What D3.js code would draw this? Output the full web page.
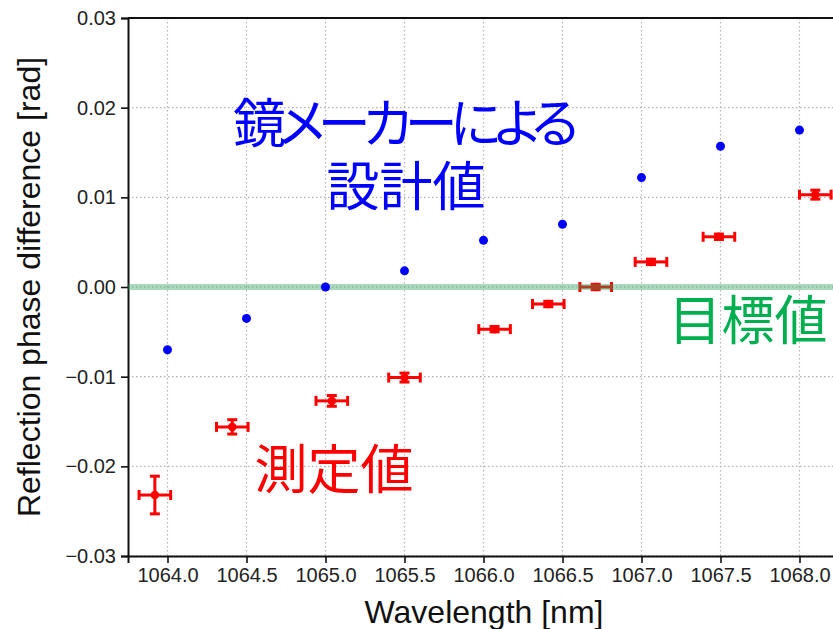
<!DOCTYPE html>
<html>
<head>
<meta charset="utf-8">
<script src="https://cdn.jsdelivr.net/npm/d3@7"></script>
<style>
  html, body { margin: 0; padding: 0; background: #fff; }
  svg { display: block; }
</style>
</head>
<body>
<svg id="chart" width="833" height="629"></svg>
<script>
// Design values supplied by the mirror maker
const designWavelength = [1064.0, 1064.5, 1065.0, 1065.5, 1066.0, 1066.5, 1067.0, 1067.5, 1068.0];
const designPhase = [-0.0070, -0.0035, 0.0000, 0.0018, 0.0052, 0.0070, 0.0122, 0.0157, 0.0175];

// Measured values with uncertainties
const measWavelength = [1063.92, 1064.41, 1065.04, 1065.50, 1066.07, 1066.41, 1066.71, 1067.06, 1067.49, 1068.10];
const measPhase = [-0.0232, -0.0156, -0.0127, -0.0101, -0.0047, -0.0019, 0.0000, 0.0028, 0.0056, 0.0103];
const measPhaseErr = [0.0021, 0.0008, 0.0006, 0.0005, 0.0003, 0.0003, 0.0003, 0.0003, 0.0003, 0.0005];
const measWavelengthErr = [0.1, 0.1, 0.1, 0.1, 0.1, 0.1, 0.1, 0.1, 0.1, 0.1];

// Target phase difference
const targetPhase = 0.0;

const xTicks = [1064.0, 1064.5, 1065.0, 1065.5, 1066.0, 1066.5, 1067.0, 1067.5, 1068.0];
const yTicks = [-0.03, -0.02, -0.01, 0.00, 0.01, 0.02, 0.03];

const svg = d3.select("#chart");
const x = d3.scaleLinear().domain([1063.75, 1068.25]).range([128, 839]);
const y = d3.scaleLinear().domain([-0.03, 0.03]).range([556, 18]);

const tickFont = "'Liberation Sans', Arial, sans-serif";

// Dotted grid
const grid = svg.append("g");
grid.selectAll("line.gx").data(xTicks).join("line")
  .attr("x1", d => x(d)).attr("x2", d => x(d))
  .attr("y1", y(0.03)).attr("y2", y(-0.03))
  .attr("stroke", "#b4b4b4").attr("stroke-width", 1.2)
  .attr("stroke-dasharray", "1.5,2.5");
grid.selectAll("line.gy").data(yTicks).join("line")
  .attr("x1", x.range()[0]).attr("x2", 833)
  .attr("y1", d => y(d)).attr("y2", d => y(d))
  .attr("stroke", "#b4b4b4").attr("stroke-width", 1.2)
  .attr("stroke-dasharray", "1.5,2.5");

// Axes
const xAxis = svg.append("g")
  .attr("transform", `translate(0,${y(-0.03)})`)
  .call(d3.axisBottom(x).tickValues(xTicks).tickFormat(d3.format(".1f")).tickSize(7).tickPadding(5));
const yAxis = svg.append("g")
  .attr("transform", `translate(${x.range()[0]},0)`)
  .call(d3.axisLeft(y).tickValues(yTicks).tickFormat(d3.format(".2f")).tickSize(7).tickPadding(5));
// top spine
svg.append("line")
  .attr("x1", x.range()[0]).attr("x2", 833)
  .attr("y1", y(0.03)).attr("y2", y(0.03))
  .attr("stroke", "#111").attr("stroke-width", 2);

[xAxis, yAxis].forEach(g => {
  g.select(".domain").attr("stroke", "#111").attr("stroke-width", 2);
  g.selectAll(".tick line").attr("stroke", "#111").attr("stroke-width", 1.6);
  g.selectAll(".tick text").attr("fill", "#222")
    .style("font-family", tickFont).style("font-size", "20px");
});
yAxis.selectAll(".tick text").text(d => d3.format(".2f")(d).replace("-", "\u2212"));

// Axis titles
svg.append("text")
  .attr("x", 484).attr("y", 623)
  .attr("text-anchor", "middle")
  .style("font-family", tickFont).style("font-size", "32px").attr("fill", "#111")
  .text("Wavelength [nm]");
svg.append("text")
  .attr("transform", "translate(40,287) rotate(-90)")
  .attr("text-anchor", "middle")
  .style("font-family", tickFont).style("font-size", "32px").attr("fill", "#111")
  .text("Reflection phase difference [rad]");

// Measured points with error bars
const red = "#ff0000";
const capHalf = 5;
const meas = measWavelength.map((w, i) => ({
  w, p: measPhase[i], ep: measPhaseErr[i], ew: measWavelengthErr[i]
}));
const mg = svg.append("g").attr("stroke", red).attr("stroke-width", 3).attr("fill", red);
const mItem = mg.selectAll("g").data(meas).join("g");
// horizontal bar + caps
mItem.append("line")
  .attr("x1", d => x(d.w - d.ew)).attr("x2", d => x(d.w + d.ew))
  .attr("y1", d => y(d.p)).attr("y2", d => y(d.p));
mItem.append("line")
  .attr("x1", d => x(d.w - d.ew)).attr("x2", d => x(d.w - d.ew))
  .attr("y1", d => y(d.p) - capHalf).attr("y2", d => y(d.p) + capHalf);
mItem.append("line")
  .attr("x1", d => x(d.w + d.ew)).attr("x2", d => x(d.w + d.ew))
  .attr("y1", d => y(d.p) - capHalf).attr("y2", d => y(d.p) + capHalf);
// vertical bar + caps
mItem.append("line")
  .attr("x1", d => x(d.w)).attr("x2", d => x(d.w))
  .attr("y1", d => y(d.p - d.ep)).attr("y2", d => y(d.p + d.ep));
mItem.append("line")
  .attr("x1", d => x(d.w) - capHalf).attr("x2", d => x(d.w) + capHalf)
  .attr("y1", d => y(d.p - d.ep)).attr("y2", d => y(d.p - d.ep));
mItem.append("line")
  .attr("x1", d => x(d.w) - capHalf).attr("x2", d => x(d.w) + capHalf)
  .attr("y1", d => y(d.p + d.ep)).attr("y2", d => y(d.p + d.ep));
mItem.append("circle")
  .attr("cx", d => x(d.w)).attr("cy", d => y(d.p)).attr("r", 3.5)
  .attr("stroke-width", 1.5);

// Target line (translucent band)
svg.append("line")
  .attr("x1", x.range()[0]).attr("x2", 833)
  .attr("y1", y(targetPhase)).attr("y2", y(targetPhase))
  .attr("stroke", "#2ca05a").attr("stroke-opacity", 0.4).attr("stroke-width", 6);

// Design values
svg.append("g").selectAll("circle")
  .data(designWavelength.map((w, i) => ({ w, p: designPhase[i] })))
  .join("circle")
  .attr("cx", d => x(d.w)).attr("cy", d => y(d.p)).attr("r", 4.5)
  .attr("fill", "#0000ff");

// Annotations
const jpFont = "'Noto Sans CJK JP', sans-serif";
svg.append("text")
  .attr("x", 406).attr("y", 143).attr("text-anchor", "middle")
  .attr("textLength", 346).attr("lengthAdjust", "spacing")
  .style("font-family", jpFont).style("font-size", "53px")
  .style("font-feature-settings", "'palt'")
  .attr("fill", "#0000ff").text("鏡メーカーによる");
svg.append("text")
  .attr("x", 406).attr("y", 206).attr("text-anchor", "middle")
  .style("font-family", jpFont).style("font-size", "53px")
  .attr("fill", "#0000ff").text("設計値");
svg.append("text")
  .attr("x", 334).attr("y", 489).attr("text-anchor", "middle")
  .style("font-family", jpFont).style("font-size", "53px")
  .attr("fill", "#ff0000").text("測定値");
svg.append("text")
  .attr("x", 748).attr("y", 340).attr("text-anchor", "middle")
  .style("font-family", jpFont).style("font-size", "53px")
  .attr("fill", "#00b050").text("目標値");
</script>
</body>
</html>
